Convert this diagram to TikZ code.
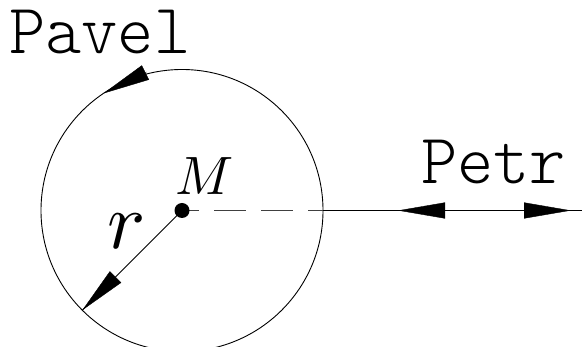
\documentclass[tikz,border=0pt]{standalone}
\usepackage{graphicx}
\usetikzlibrary{arrows.meta,calc}
\tikzset{
  outline/.style={line width=0.9pt, black},
  centerline/.style={line width=0.7pt, black!75, dash pattern=on 32pt off 15pt, dash phase=15pt},
  bigtip/.style={line width=0.4pt, -{Triangle[length=47pt,width=16pt]}},
  txtlab/.style={inner sep=0pt, anchor=base west},
  nametxt/.style={txtlab, font=\fontseries{l}\ttfamily}
}
\newcommand\bigname[1]{\scalebox{6.9}[7.1]{#1}}
\begin{document}
\begin{tikzpicture}[x=1pt,y=-1pt]
\useasboundingbox (0,0) rectangle (582,347);
\clip (0,0) rectangle (582,347);
\coordinate (M) at (182,210.5);
\node[outline, draw, circle, minimum size=282pt, inner sep=0pt] (C) at (M) {};
% radius arrow
\coordinate (rtip) at ($(M)+(225:141pt)$);
\draw[outline] (M) -- (rtip);
\draw[bigtip] ($(rtip)!47pt!(M)$) -- (rtip);
% Pavel arrow on circle
\coordinate (ptip) at ($(M)+(123.9:141pt)$);
\coordinate (pbase) at (146.5,72);
\draw[bigtip] (pbase) -- (ptip);
% center line and Petr line
\coordinate (E) at (C.east);
\coordinate (R) at (582,210.5);
\draw[centerline] (M) -- (E);
\draw[outline] (E) -- (R);
\coordinate (lt) at (398,210.5);
\coordinate (rt) at (571,210.5);
\draw[bigtip] ($(lt)+(47,0)$) -- (lt);
\draw[bigtip] ($(rt)-(47,0)$) -- (rt);
% center dot
\fill (M) circle (7.5pt);
% labels
\node[nametxt] (pavel) at (9,54) {\bigname{Pavel}};
\node[nametxt] (petr) at (421,184) {\bigname{Petr}};
\node[txtlab] (mlab) at (175,195) {\scalebox{5.4}{$M$}};
\node[txtlab] (rlab) at (107,249) {\scalebox{8}{$r$}};
\end{tikzpicture}
\end{document}
